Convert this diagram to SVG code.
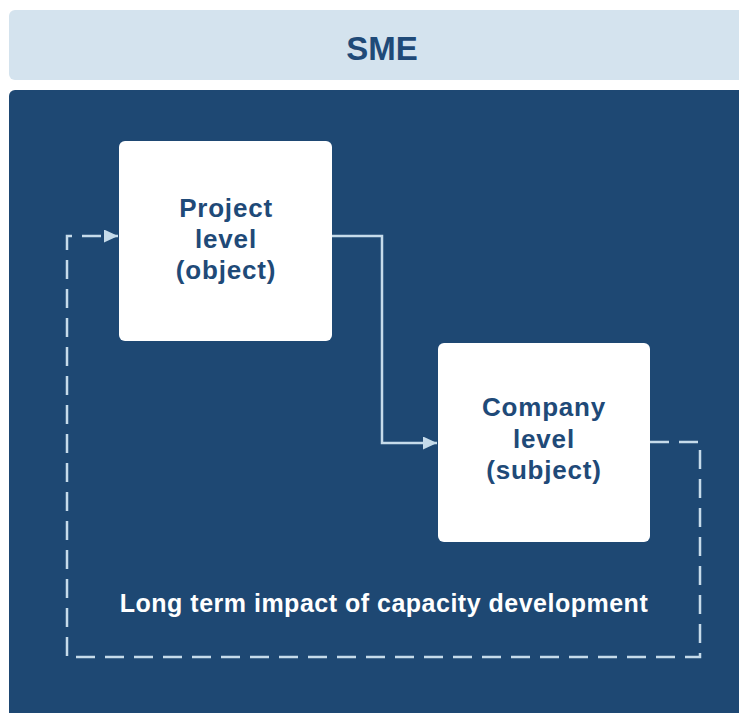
<svg xmlns="http://www.w3.org/2000/svg" width="739" height="713" viewBox="0 0 739 713">
  <defs>
    <style>
      .hdr { fill: #d4e3ee; }
      .panel { fill: #1e4873; }
      .box { fill: #ffffff; }
      .title { font-family: "Liberation Sans", Arial, sans-serif; font-weight: bold; font-size: 33px; fill: #1f4a78; text-anchor: middle; }
      .lbl { font-family: "Liberation Sans", Arial, sans-serif; font-weight: bold; font-size: 26px; letter-spacing: 0.8px; fill: #1f4a78; text-anchor: middle; }
      .note { font-family: "Liberation Sans", Arial, sans-serif; font-weight: bold; font-size: 25px; letter-spacing: 0.5px; fill: #ffffff; text-anchor: middle; }
      .conn { fill: none; stroke: #c6dbea; stroke-width: 2.5; }
      .dash { stroke-dasharray: 19 10; }
    </style>
    <marker id="arrow" markerUnits="userSpaceOnUse" markerWidth="14" markerHeight="13" refX="14" refY="6.5" orient="auto">
      <path d="M0,0 L14,6.5 L0,13 Z" fill="#c6dbea"/>
    </marker>
  </defs>

  <g id="header">
    <rect class="hdr" x="9" y="10" width="760" height="70" rx="6"/>
    <text class="title" x="382" y="60">SME</text>
  </g>

  <g id="panel">
    <rect class="panel" x="9" y="90" width="760" height="660" rx="6"/>
  </g>

  <g id="connectors">
    <path class="conn" d="M330,236 H382 V443 H437" marker-end="url(#arrow)"/>
    <path class="conn dash" d="M650,442 H700 V657 H67 V236 H118" marker-end="url(#arrow)"/>
  </g>

  <g id="project">
    <rect class="box" x="119" y="141" width="213" height="200" rx="6"/>
    <text class="lbl" x="226" y="217">Project</text>
    <text class="lbl" x="226" y="248">level</text>
    <text class="lbl" x="226" y="279">(object)</text>
  </g>

  <g id="company">
    <rect class="box" x="438" y="343" width="212" height="199" rx="6"/>
    <text class="lbl" x="544" y="416">Company</text>
    <text class="lbl" x="544" y="448">level</text>
    <text class="lbl" x="544" y="479">(subject)</text>
  </g>

  <g id="feedback-label">
    <text class="note" x="384" y="612">Long term impact of capacity development</text>
  </g>
</svg>
